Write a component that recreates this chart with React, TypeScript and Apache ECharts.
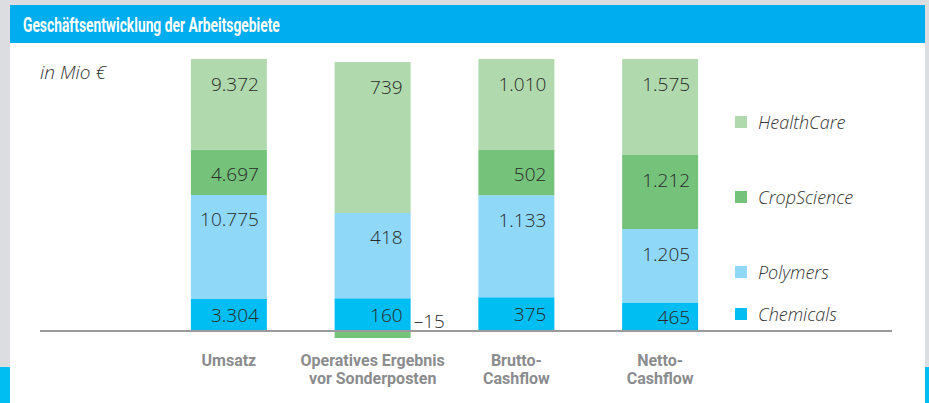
import React, { useEffect, useRef } from "react";
import * as echarts from "echarts";

const categories = ["Umsatz", "Operatives Ergebnis\nvor Sonderposten", "Brutto-\nCashflow", "Netto-\nCashflow"];
const seriesNames = ["Chemicals", "Polymers", "CropScience", "HealthCare"];
const chemicals = [3304, 160, 375, 465];
const polymers = [10775, 418, 1133, 1205];
const cropScience = [4697, -15, 502, 1212];
const healthCare = [9372, 739, 1010, 1575];
const seriesValues = [chemicals, polymers, cropScience, healthCare];
const colors = ["#00bdf2", "#8fd8f8", "#75c27b", "#b0daad"];
const legendTops = [305, 263, 188, 113];

const titleText = "Geschäftsentwicklung der Arbeitsgebiete";
const unitText = "in Mio €";

function fmt(v: number): string {
  const a = Math.abs(v);
  const s = String(a).replace(/\B(?=(\d{3})+(?!\d))/g, ".");
  return v < 0 ? "–" + s : s;
}

export default function App() {
  const ref = useRef<HTMLDivElement>(null);
  useEffect(() => {
    if (!ref.current) return;
    const chart = echarts.init(ref.current, null, { renderer: "svg" });
    const totals = categories.map((_, i) =>
      seriesValues.reduce((s, arr) => s + Math.abs(arr[i]), 0)
    );
    const titleFont = 'bold 21px Roboto, sans-serif';
    let scaleX = 0.75;
    try {
      const c = document.createElement("canvas").getContext("2d");
      if (c) {
        c.font = titleFont;
        const w = c.measureText(titleText).width;
        if (w > 0) scaleX = 257 / w;
      }
    } catch (e) {}

    const labelBase = {
      show: true,
      fontFamily: '"Open Sans", sans-serif',
      fontWeight: 300,
      fontSize: 19,
      color: "#2a2a2a",
    };

    const series = seriesNames.map((name, si) => ({
      type: "bar",
      name,
      stack: "total",
      barWidth: 76,
      barMinHeight: si === 2 ? 7 : 0,
      itemStyle: { color: colors[si] },
      label:
        si === 0
          ? { ...labelBase, position: "insideRight", distance: 8, formatter: (p: any) => fmt(seriesValues[si][p.dataIndex]) }
          : { ...labelBase, position: "insideTopRight", distance: 8, offset: [0, 7], formatter: (p: any) => fmt(seriesValues[si][p.dataIndex]) },
      data: seriesValues[si].map((v, i) => {
        const item: any = { value: (v / totals[i]) * 100 };
        if (v < 0) {
          item.label = { position: "right", distance: 3, offset: [0, -14] };
        }
        return item;
      }),
    }));

    chart.setOption({
      animation: false,
      backgroundColor: "#dcdde0",
      grid: { left: 157, right: 197, top: 59, bottom: 44.8 },
      xAxis: {
        type: "category",
        data: categories,
        axisLine: { show: false, onZero: true },
        axisTick: { show: false },
        axisLabel: {
          interval: 0,
          margin: -7,
          color: "#8b8c8e",
          fontWeight: "bold",
          fontFamily: "Roboto, sans-serif",
          fontSize: 16,
          lineHeight: 18,
        },
      },
      yAxis: { type: "value", min: -10, max: 100, show: false, splitLine: { show: false } },
      legend: seriesNames.map((n, i) => ({
        data: [n],
        left: 735,
        top: legendTops[i],
        padding: 0,
        icon: "rect",
        itemWidth: 12,
        itemHeight: 12,
        selectedMode: false,
        textStyle: {
          fontFamily: '"Open Sans", sans-serif',
          fontStyle: "italic",
          fontWeight: 300,
          fontSize: 18,
          color: "#333",
          padding: [0, 0, 0, 6],
        },
      })),
      graphic: [
        { type: "rect", z: -10, shape: { x: 10, y: 5, width: 915, height: 398 }, style: { fill: "#ffffff" }, silent: true },
        { type: "rect", z: -9, shape: { x: 10, y: 5, width: 915, height: 38 }, style: { fill: "#00adee" }, silent: true },
        { type: "rect", z: -9, shape: { x: 0, y: 367, width: 10, height: 36 }, style: { fill: "#00bdf2" }, silent: true },
        { type: "rect", z: -9, shape: { x: 925, y: 367, width: 4, height: 36 }, style: { fill: "#00bdf2" }, silent: true },
        {
          type: "text",
          z: 100,
          x: 23,
          y: 25,
          scaleX,
          style: { text: titleText, font: titleFont, fill: "#ffffff", verticalAlign: "middle" },
        },
        {
          type: "text",
          z: 100,
          x: 40,
          y: 72,
          style: {
            text: unitText,
            font: 'italic 300 19px "Open Sans", sans-serif',
            fill: "#333",
            verticalAlign: "middle",
          },
        },
        {
          type: "line",
          z: 50,
          shape: { x1: 40, y1: 331, x2: 892, y2: 331 },
          style: { stroke: "#9a9a9a", lineWidth: 2 },
        },
      ],
      series,
    });
    return () => chart.dispose();
  }, []);
  return (
    <div
      ref={ref}
      style={{ position: "fixed", left: 0, top: 0, width: 929, height: 403 }}
    />
  );
}
